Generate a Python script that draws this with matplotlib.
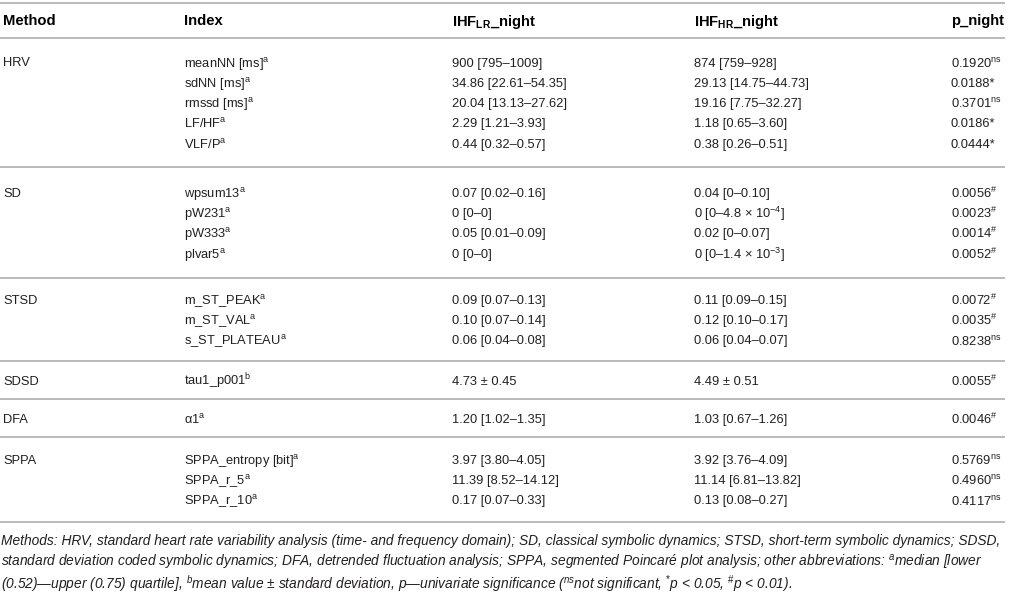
import matplotlib
matplotlib.use('Agg')
import matplotlib.pyplot as plt
from matplotlib import font_manager

#-------------------------------------------------------------------------------
# table content
#-------------------------------------------------------------------------------
headers = ['Method', 'Index', r'IHF$_{\mathbf{LR}}$_night',
           r'IHF$_{\mathbf{HR}}$_night', 'p_night']

methods = ['HRV', 'SD', 'STSD', 'SDSD', 'DFA', 'SPPA']

indices = [
    [r'meanNN [ms]$^{\mathrm{a}}$', r'sdNN [ms]$^{\mathrm{a}}$',
     r'rmssd [ms]$^{\mathrm{a}}$', r'LF/HF$^{\mathrm{a}}$', r'VLF/P$^{\mathrm{a}}$'],
    [r'wpsum13$^{\mathrm{a}}$', r'pW231$^{\mathrm{a}}$', r'pW333$^{\mathrm{a}}$',
     r'plvar5$^{\mathrm{a}}$'],
    [r'm_ST_PEAK$^{\mathrm{a}}$', r'm_ST_VAL$^{\mathrm{a}}$',
     r's_ST_PLATEAU$^{\mathrm{a}}$'],
    [r'tau1_p001$^{\mathrm{b}}$'],
    [r'α1$^{\mathrm{a}}$'],
    [r'SPPA_entropy [bit]$^{\mathrm{a}}$', r'SPPA_r_5$^{\mathrm{a}}$',
     r'SPPA_r_10$^{\mathrm{a}}$'],
]

ihf_lr = [
    ['900 [795–1009]', '34.86 [22.61–54.35]', '20.04 [13.13–27.62]',
     '2.29 [1.21–3.93]', '0.44 [0.32–0.57]'],
    ['0.07 [0.02–0.16]', '0 [0–0]', '0.05 [0.01–0.09]', '0 [0–0]'],
    ['0.09 [0.07–0.13]', '0.10 [0.07–0.14]', '0.06 [0.04–0.08]'],
    ['4.73 ± 0.45'],
    ['1.20 [1.02–1.35]'],
    ['3.97 [3.80–4.05]', '11.39 [8.52–14.12]', '0.17 [0.07–0.33]'],
]

ihf_hr = [
    ['874 [759–928]', '29.13 [14.75–44.73]', '19.16 [7.75–32.27]',
     '1.18 [0.65–3.60]', '0.38 [0.26–0.51]'],
    ['0.04 [0–0.10]', r'0 [0–4.8 × 10$^{-4}$]', '0.02 [0–0.07]',
     r'0 [0–1.4 × 10$^{-3}$]'],
    ['0.11 [0.09–0.15]', '0.12 [0.10–0.17]', '0.06 [0.04–0.07]'],
    ['4.49 ± 0.51'],
    ['1.03 [0.67–1.26]'],
    ['3.92 [3.76–4.09]', '11.14 [6.81–13.82]', '0.13 [0.08–0.27]'],
]

p_night = [
    ['0.1920', '0.0188', '0.3701', '0.0186', '0.0444'],
    ['0.0056', '0.0023', '0.0014', '0.0052'],
    ['0.0072', '0.0035', '0.8238'],
    ['0.0055'],
    ['0.0046'],
    ['0.5769', '0.4960', '0.4117'],
]
p_sig = [
    ['ns', '*', 'ns', '*', '*'],
    ['#', '#', '#', '#'],
    ['#', '#', 'ns'],
    ['#'],
    ['#'],
    ['ns', 'ns', 'ns'],
]

footnote = [
    'Methods: HRV, standard heart rate variability analysis (time- and frequency domain); '
    'SD, classical symbolic dynamics; STSD, short-term symbolic dynamics; SDSD,',
    'standard deviation coded symbolic dynamics; DFA, detrended fluctuation analysis; '
    'SPPA, segmented Poincaré plot analysis; other abbreviations: $^{a}$median [lower',
    '(0.52)—upper (0.75) quartile], $^{b}$mean value ± standard deviation, '
    'p—univariate significance ($^{ns}$not significant, $^{*}$p < 0.05, $^{\\#}$p < 0.01).',
]

#-------------------------------------------------------------------------------
# layout (pixel coordinates)
#-------------------------------------------------------------------------------
W, H = 1015, 593
col_x = [3, 184, 452, 694, 951]
rule_y = [2.5, 38, 167, 278, 361, 399, 437, 522]
row_h = 20.3
line_x1 = 1005
foot_y = [541, 563, 585]

txt_col = '#231f20'
rule_col = '#b4b4b4'

names = {f.name for f in font_manager.fontManager.ttflist}
body_font = 'Liberation Sans'
foot_font = 'Liberation Sans Narrow' if 'Liberation Sans Narrow' in names else body_font

plt.rcParams['font.family'] = [body_font, 'DejaVu Sans']
plt.rcParams['mathtext.fontset'] = 'custom'
plt.rcParams['mathtext.rm'] = body_font
plt.rcParams['mathtext.it'] = body_font + ':italic'
plt.rcParams['mathtext.bf'] = body_font + ':bold'

fig = plt.figure(figsize=(W / 100, H / 100), dpi=100)
ax = fig.add_axes([0, 0, 1, 1])
ax.set_xlim(0, W)
ax.set_ylim(H, 0)
ax.axis('off')

fs = 9.3
fs_head = 10.6
base_off = 4.6  # baseline below the row centre

def cell(x, y, s, size=fs, **kw):
    #mathtext strings sit a touch high on the baseline
    if '$' in s:
        y += 1
    ax.text(x, y, s, fontsize=size, va='baseline', **kw)

#rules
for y in rule_y:
    ax.plot([0, line_x1], [y, y], color=rule_col, lw=1.3, solid_capstyle='butt')

#header
hy = (rule_y[0] + rule_y[1]) / 2 + 5
for x, h in zip(col_x, headers):
    cell(x, hy, h, size=fs_head, fontweight='bold', color='black')

#body
for g, m in enumerate(methods):
    top, bot = rule_y[g + 1], rule_y[g + 2]
    n = len(indices[g])
    yc = (top + bot) / 2 - (n - 1) * row_h / 2
    for k in range(n):
        y = yc + k * row_h + base_off
        if k == 0:
            cell(col_x[0], y, m, color=txt_col)
        cell(col_x[1], y, indices[g][k], color=txt_col)
        cell(col_x[2], y, ihf_lr[g][k], color=txt_col)
        cell(col_x[3], y, ihf_hr[g][k], color=txt_col)
        s = p_sig[g][k]
        if s == '*':
            ptxt = p_night[g][k] + '*'
        elif s == '#':
            ptxt = p_night[g][k] + r'$^{\#}$'
        else:
            ptxt = p_night[g][k] + r'$^{\mathrm{ns}}$'
        cell(col_x[4], y, ptxt, color=txt_col)

#footnote, scaled so the first line spans the table width
foot_props = dict(family=[foot_font, 'DejaVu Sans'], style='italic', color=txt_col,
                  va='baseline')
plt.rcParams['mathtext.it'] = foot_font + ':italic'
t0 = ax.text(0, foot_y[0] + 4, footnote[0], fontsize=10, **foot_props)
fig.canvas.draw()
w0 = t0.get_window_extent().width
t0.remove()
ffs = 10 * (line_x1 - 1) / w0
for y, line in zip(foot_y, footnote):
    ax.text(1, y + 4, line, fontsize=ffs, **foot_props)

fig.savefig('out.png', dpi=100)
